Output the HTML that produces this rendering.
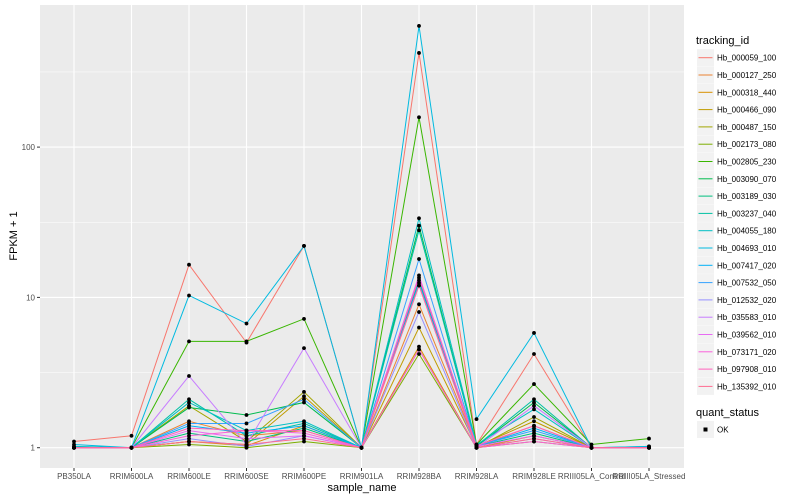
<!DOCTYPE html>
<html><head><meta charset="utf-8"><style>
body{margin:0;background:#fff;}
svg{display:block;font-family:"Liberation Sans",sans-serif;}
</style></head><body>
<svg id="chart" width="800" height="500"></svg>
<script>
const categories=["PB350LA","RRIM600LA","RRIM600LE","RRIM600SE","RRIM600PE","RRIM901LA","RRIM928BA","RRIM928LA","RRIM928LE","RRIII05LA_Control","RRIII05LA_Stressed"];
const seriesNames=["Hb_000059_100","Hb_000127_250","Hb_000318_440","Hb_000466_090","Hb_000487_150","Hb_002173_080","Hb_002805_230","Hb_003090_070","Hb_003189_030","Hb_003237_040","Hb_004055_180","Hb_004693_010","Hb_007417_020","Hb_007532_050","Hb_012532_020","Hb_035583_010","Hb_039562_010","Hb_073171_020","Hb_097908_010","Hb_135392_010"];
const seriesColors=["#F8766D","#EA8331","#D89000","#C09B00","#A3A500","#7CAE00","#39B600","#00BB4E","#00BF7D","#00C1A3","#00BFC4","#00BAE0","#00B0F6","#35A2FF","#9590FF","#C77CFF","#E76BF3","#FA62DB","#FF62BC","#FF6C91"];
const s01=[1.1,1.2,16.5,5.0,22,1,423,1.05,4.2,1.0,1.0];
const s02=[1,1,1.5,1.2,1.3,1,9,1.02,1.4,1,1];
const s03=[1,1,1.1,1.03,1.4,1,4.7,1.0,1.2,1,1];
const s04=[1,1,1.1,1.05,2.2,1,6.3,1.02,1.5,1,1];
const s05=[1,1,1.9,1.1,2.35,1,4.5,1.0,1.6,1,1];
const s06=[1,1,1.05,1.0,1.1,1,4.2,1.0,1.1,1,1];
const s07=[1.0,1.0,5.1,5.1,7.2,1,158,1.05,2.65,1.05,1.15];
const s08=[1,1,1.85,1.65,2.0,1,30,1.02,2.0,1,1];
const s09=[1,1,1.25,1.1,1.35,1,13,1.02,1.25,1,1];
const s10=[1,1,2.1,1.2,1.45,1,28,1.03,2.1,1,1];
const s11=[1.02,1,2.0,1.3,1.5,1,33.6,1.05,1.8,1,1.02];
const s12=[1.05,1.0,10.3,6.7,22,1,640,1.55,5.8,1.0,1.02];
const s13=[1,1,1.4,1.25,1.4,1,12.5,1.02,1.35,1,1];
const s14=[1,1,1.45,1.45,2.1,1,18,1.03,1.3,1,1];
const s15=[1,1,1.15,1.02,1.2,1,8,1,1.15,1,1];
const s16=[1,1,3.0,1.05,4.6,1,12,1,1.9,1,1];
const s17=[1,1,1.3,1.15,1.2,1,14,1.02,1.2,1,1];
const s18=[1,1,1.2,1.3,1.25,1,4.5,1.0,1.1,1,1];
const s19=[1,1,1.35,1.3,1.3,1,13.5,1.03,1.4,1,1];
const s20=[1,1,1.1,1.05,1.15,1,12,1,1.15,1,1];
const seriesValues=[s01,s02,s03,s04,s05,s06,s07,s08,s09,s10,s11,s12,s13,s14,s15,s16,s17,s18,s19,s20];
const yTickValues=[1,10,100];
const yTickLabels=["1","10","100"];
const yMinorValues=[Math.sqrt(10),Math.sqrt(1000),Math.sqrt(100000)];

const NS="http://www.w3.org/2000/svg";
const svg=document.getElementById("chart");
const PL=40,PR=684,PT=5,PB=468;
const X0=74,DX=57.5;
function xs(i){return X0+i*DX;}
function ys(v){return 447.7-150.3*Math.log10(v);}
function mk(tag,attrs,parent){const e=document.createElementNS(NS,tag);for(const k in attrs)e.setAttribute(k,attrs[k]);(parent||svg).appendChild(e);return e;}

const panel=mk("rect",{x:PL,y:PT,width:PR-PL,height:PB-PT,fill:"#EBEBEB"});


yMinorValues.forEach(v=>{const y=ys(v);if(y>PT&&y<PB){const l=mk("line",{x1:PL,x2:PR,y1:y,y2:y,stroke:"#fff","stroke-width":0.5});

}});
yTickValues.forEach((v,i)=>{const y=ys(v);const l=mk("line",{x1:PL,x2:PR,y1:y,y2:y,stroke:"#fff","stroke-width":1.1});


const t=mk("line",{x1:PL-3,x2:PL,y1:y,y2:y,stroke:"#333","stroke-width":1});


const tx=mk("text",{x:PL-5,y:y+3,"text-anchor":"end","font-size":8,fill:"#4D4D4D"});tx.textContent=yTickLabels[i];

});
categories.forEach((c,i)=>{const x=xs(i);const l=mk("line",{x1:x,x2:x,y1:PT,y2:PB,stroke:"#fff","stroke-width":1.1});


const t=mk("line",{x1:x,x2:x,y1:PB,y2:PB+3,stroke:"#333","stroke-width":1});


const tx=mk("text",{x:x,y:PB+11,"text-anchor":"middle","font-size":8,fill:"#4D4D4D"});tx.textContent=c;

});

seriesValues.forEach((vals,si)=>{const p=mk("polyline",{points:vals.map((v,i)=>xs(i)+","+ys(v)).join(" "),fill:"none",stroke:seriesColors[si],"stroke-width":1});

});
seriesValues.forEach((vals,si)=>{vals.forEach((v,i)=>{const c=mk("circle",{cx:xs(i),cy:ys(v),r:1.9,fill:"#000"});

});});

const xt=mk("text",{x:(PL+PR)/2,y:491,"text-anchor":"middle","font-size":11,fill:"#000"});xt.textContent="sample_name";


const yt=mk("text",{x:0,y:0,"text-anchor":"middle","font-size":11,fill:"#000",transform:"translate(17,236) rotate(-90)"});yt.textContent="FPKM + 1";



const lt=mk("text",{x:696,y:44,"font-size":11,fill:"#000"});lt.textContent="tracking_id";


seriesNames.forEach((n,i)=>{const y=57.7+i*17.3;const g=mk("g",{});


mk("rect",{x:697,y:y-8.5,width:17,height:17,fill:"#F2F2F2"},g);
mk("line",{x1:698.5,x2:712.5,y1:y,y2:y,stroke:seriesColors[i],"stroke-width":1},g);
const t=mk("text",{x:717,y:y+3,"font-size":8,fill:"#000"},g);t.textContent=n;});
const qt=mk("text",{x:696,y:416,"font-size":11,fill:"#000"});qt.textContent="quant_status";


const qg=mk("g",{});


mk("rect",{x:697,y:421,width:17,height:17,fill:"#F2F2F2"},qg);
mk("rect",{x:703.5,y:427.5,width:4,height:4,fill:"#000"},qg);
const ok=mk("text",{x:717,y:432.5,"font-size":8,fill:"#000"},qg);ok.textContent="OK";
</script>
</body></html>
